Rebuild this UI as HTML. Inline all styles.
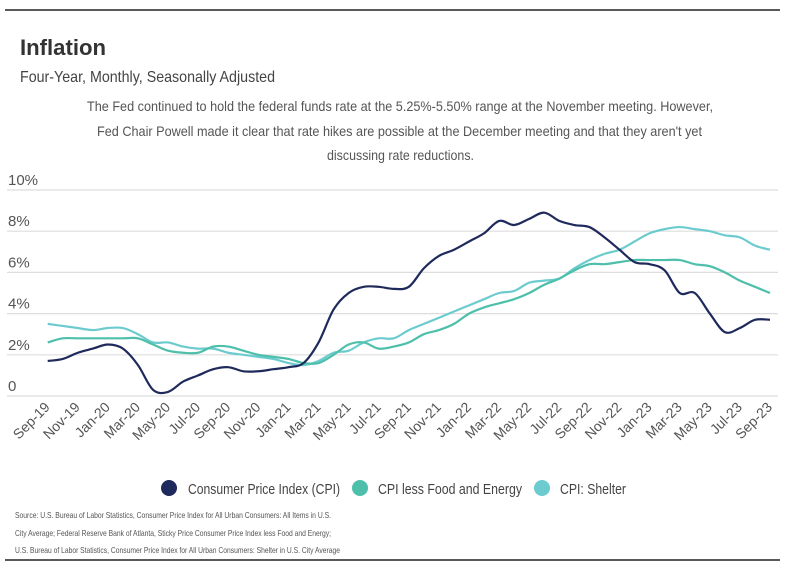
<!DOCTYPE html>
<html><head><meta charset="utf-8"><style>
body{margin:0;background:#fff;}
svg{display:block;font-family:"Liberation Sans",sans-serif;}
</style></head><body>
<svg width="797" height="566" viewBox="0 0 797 566">
<line x1="5" y1="10" x2="780" y2="10" stroke="#222" stroke-width="1.5"/>
<text x="20" y="55" font-size="22" font-weight="bold" fill="#333" textLength="86" lengthAdjust="spacingAndGlyphs">Inflation</text>
<text x="20" y="82" font-size="16" fill="#444" textLength="255" lengthAdjust="spacingAndGlyphs">Four-Year, Monthly, Seasonally Adjusted</text>
<g fill="#555" font-size="14">
<text x="87" y="111" textLength="626" lengthAdjust="spacingAndGlyphs">The Fed continued to hold the federal funds rate at the 5.25%-5.50% range at the November meeting. However,</text>
<text x="97" y="136" textLength="605" lengthAdjust="spacingAndGlyphs">Fed Chair Powell made it clear that rate hikes are possible at the December meeting and that they aren't yet</text>
<text x="327" y="160" textLength="147" lengthAdjust="spacingAndGlyphs">discussing rate reductions.</text>
</g>
<g id="grid"></g>
<g id="ylabels"></g>
<g id="xlabels"></g>
<g id="lines"></g>
<g font-size="15" fill="#444">
<g><circle cx="169" cy="488" r="8" fill="#1f2a5c"/><text x="188" y="494" textLength="152" lengthAdjust="spacingAndGlyphs">Consumer Price Index (CPI)</text></g>
<g><circle cx="360" cy="488" r="8" fill="#4dbfaa"/><text x="378" y="494" textLength="144" lengthAdjust="spacingAndGlyphs">CPI less Food and Energy</text></g>
<g><circle cx="542" cy="488" r="8" fill="#6ccbcf"/><text x="560" y="494" textLength="66" lengthAdjust="spacingAndGlyphs">CPI: Shelter</text></g>
</g>
<g fill="#555" font-size="8.5">
<text x="15" y="518" textLength="316" lengthAdjust="spacingAndGlyphs">Source:  U.S. Bureau of Labor Statistics, Consumer Price Index for All Urban Consumers: All Items in U.S.</text>
<text x="15" y="536" textLength="316" lengthAdjust="spacingAndGlyphs">City Average; Federal Reserve Bank of Atlanta, Sticky Price Consumer Price Index less Food and Energy;</text>
<text x="15" y="553" textLength="325" lengthAdjust="spacingAndGlyphs">U.S. Bureau of Labor Statistics, Consumer Price Index for All Urban Consumers: Shelter in U.S. City Average</text>
</g>
<line x1="5" y1="560" x2="780" y2="560" stroke="#222" stroke-width="1.5"/>
</svg>
<script>
const months=["Sep-19","Oct-19","Nov-19","Dec-19","Jan-20","Feb-20","Mar-20","Apr-20","May-20","Jun-20","Jul-20","Aug-20","Sep-20","Oct-20","Nov-20","Dec-20","Jan-21","Feb-21","Mar-21","Apr-21","May-21","Jun-21","Jul-21","Aug-21","Sep-21","Oct-21","Nov-21","Dec-21","Jan-22","Feb-22","Mar-22","Apr-22","May-22","Jun-22","Jul-22","Aug-22","Sep-22","Oct-22","Nov-22","Dec-22","Jan-23","Feb-23","Mar-23","Apr-23","May-23","Jun-23","Jul-23","Aug-23","Sep-23"];
const cpi=[1.7,1.8,2.1,2.3,2.5,2.3,1.5,0.3,0.2,0.7,1.0,1.3,1.4,1.2,1.2,1.3,1.4,1.6,2.6,4.2,5.0,5.3,5.3,5.2,5.3,6.2,6.8,7.1,7.5,7.9,8.5,8.3,8.6,8.9,8.5,8.3,8.2,7.7,7.1,6.5,6.4,6.1,5.0,5.0,4.0,3.1,3.3,3.7,3.7];
const core=[2.6,2.8,2.8,2.8,2.8,2.8,2.8,2.5,2.2,2.1,2.1,2.4,2.4,2.2,2.0,1.9,1.8,1.6,1.6,2.0,2.5,2.6,2.3,2.4,2.6,3.0,3.2,3.5,4.0,4.3,4.5,4.7,5.0,5.4,5.7,6.1,6.4,6.4,6.5,6.6,6.6,6.6,6.6,6.4,6.3,6.0,5.6,5.3,5.0];
const shelter=[3.5,3.4,3.3,3.2,3.3,3.3,3.0,2.6,2.6,2.4,2.3,2.3,2.1,2.0,1.9,1.8,1.6,1.5,1.7,2.1,2.2,2.6,2.8,2.8,3.2,3.5,3.8,4.1,4.4,4.7,5.0,5.1,5.5,5.6,5.7,6.2,6.6,6.9,7.1,7.5,7.9,8.1,8.2,8.1,8.0,7.8,7.7,7.3,7.1];
const yTicks=[0,2,4,6,8,10];
const yTickLabels=["0","2%","4%","6%","8%","10%"];
const NS="http://www.w3.org/2000/svg";
const X0=47.7,X1=770,Y0=396,PX=20.6;
function xs(i){return X0+(X1-X0)*i/(months.length-1);}
function ys(v){return Y0-v*PX;}
function mk(tag,attrs,parent){const e=document.createElementNS(NS,tag);for(const k in attrs)e.setAttribute(k,attrs[k]);parent.appendChild(e);return e;}
const grid=document.getElementById('grid'),yl=document.getElementById('ylabels'),xl=document.getElementById('xlabels'),ln=document.getElementById('lines');
yTicks.forEach((t,i)=>{
  const g=mk('line',{x1:7,x2:778,y1:ys(t),y2:ys(t),stroke:'#ddd','stroke-width':1.2},grid);
  
  
  const tx=mk('text',{x:8,y:ys(t)-5,'font-size':15,fill:'#555'},yl);
  tx.textContent=yTickLabels[i];
  
  
});
months.forEach((m,i)=>{
  if(i%2)return;
  const x=xs(i)+3,y=408;
  const tx=mk('text',{x:x,y:y,'font-size':14,fill:'#555','text-anchor':'end',transform:`rotate(-45 ${x} ${y})`},xl);
  tx.textContent=m;
  
  
});
function smooth(vals){
  const p=vals.map((v,i)=>[xs(i),ys(v)]);
  let d=`M${p[0][0]},${p[0][1]}`;
  for(let i=0;i<p.length-1;i++){
    const p0=p[Math.max(0,i-1)],p1=p[i],p2=p[i+1],p3=p[Math.min(p.length-1,i+2)];
    const c1=[p1[0]+(p2[0]-p0[0])/6,p1[1]+(p2[1]-p0[1])/6];
    const c2=[p2[0]-(p3[0]-p1[0])/6,p2[1]-(p3[1]-p1[1])/6];
    d+=` C${c1[0]},${c1[1]} ${c2[0]},${c2[1]} ${p2[0]},${p2[1]}`;
  }
  return d;
}
[[shelter,'#6ccbcf','line-shelter'],[core,'#4dbfaa','line-core'],[cpi,'#1f2a5c','line-cpi']].forEach(([v,c,n])=>{
  const p=mk('path',{d:smooth(v),fill:'none',stroke:c,'stroke-width':2.2},ln);
  
  
});
</script>
</body></html>
